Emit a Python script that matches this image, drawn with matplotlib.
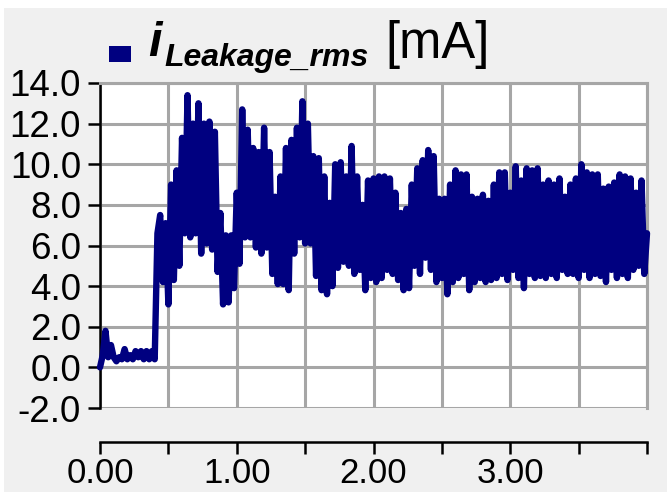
import numpy as np
import matplotlib
matplotlib.use('Agg')  # noqa
import matplotlib.pyplot as plt
from matplotlib.patches import Rectangle

plt.rcParams['font.family'] = ['Liberation Sans', 'DejaVu Sans']
plt.rcParams['axes.unicode_minus'] = False

# leakage current rms [mA], one sample every 0.02 s
DT = 0.02

startup = [0.0, 0.6, 1.8, 0.5, 1.1, 0.5, 0.3, 0.5, 0.4, 0.9, 0.4,
           0.6, 0.4, 0.8, 0.5, 0.8, 0.4, 0.8, 0.4, 0.8, 0.4]

surge = [6.6, 7.5, 4.2, 7.1, 3.1, 9.0, 4.3, 9.7, 5.0, 11.3, 6.6,
         13.4, 6.4, 12.0, 6.6, 13.0, 5.6, 12.0, 6.1, 12.1, 5.8,
         11.6, 4.7, 7.6, 3.1, 6.5, 3.2, 6.5, 3.9, 8.6, 5.1,
         12.7, 6.4, 11.7, 6.4, 10.8, 5.9, 10.6, 5.6, 11.8, 5.9,
         10.6, 4.6, 8.4, 4.1, 9.4, 4.1, 10.8, 3.8, 11.2, 5.6,
         11.8, 6.4, 13.1, 6.1]

steady = [12.0, 6.1, 10.4, 4.5, 10.3, 3.8, 9.4, 3.6, 8.1, 4.0,
          10.0, 4.9, 10.1, 5.2, 9.4, 5.0, 10.9, 4.6, 9.4, 4.8,
          8.0, 3.8, 9.2, 4.4, 9.3, 4.2, 9.4, 4.4, 9.4, 4.8,
          9.3, 4.6, 8.6, 4.3, 7.6, 3.8, 7.8, 3.9, 9.0, 5.0,
          9.8, 4.6, 10.2, 5.4, 10.7, 4.8, 10.4, 4.2, 8.3, 4.4,
          8.3, 3.6, 9.0, 4.2, 9.7, 4.4, 9.5, 4.6, 9.5, 3.8,
          8.4, 4.2, 8.3, 4.4, 8.5, 4.2, 8.2, 4.3, 9.0, 4.4,
          9.6, 4.6, 9.6, 4.3, 8.6, 4.8, 9.9, 4.4, 9.2, 3.9,
          9.8, 4.6, 9.7, 4.4, 9.8, 4.5, 9.0, 4.4, 9.2, 4.6,
          9.0, 4.4, 9.3, 4.8, 8.4, 4.6, 9.0, 4.6, 9.3, 4.4,
          10.0, 4.8, 9.6, 4.4, 9.5, 4.6, 9.5, 4.5, 8.8, 4.2,
          8.9, 4.8, 9.1, 4.4, 9.5, 4.6, 9.4, 4.4, 9.3, 4.8,
          8.6, 5.0, 9.2, 4.6, 6.6]

y_ticks = [-2.0, 0.0, 2.0, 4.0, 6.0, 8.0, 10.0, 12.0, 14.0]
x_ticks = [0.0, 0.5, 1.0, 1.5, 2.0, 2.5, 3.0, 3.5, 4.0]
x_labels = ['0.00', '', '1.00', '', '2.00', '', '3.00', '', '']

NAVY = '#000080'
GRID = '#a6a6a6'
W, H = 667, 492

current = np.array(startup + surge + steady)
t = np.arange(len(current)) * DT

fig = plt.figure(figsize=(W / 100, H / 100), dpi=100)
fig.patch.set_facecolor('white')
fig.patches.append(Rectangle((4 / W, 0), 1 - 4 / W, 1 - 8 / H,
                             transform=fig.transFigure,
                             facecolor='#f0f0f0', edgecolor='none',
                             zorder=-5))

ax = fig.add_axes([100 / W, 1 - 408 / H, 547 / W, 325 / H], zorder=2)
ax.set_facecolor('white')
ax.plot(t, current, color=NAVY, lw=4.6, solid_joinstyle='round',
        solid_capstyle='round', zorder=3, clip_on=False)

ax.set_xlim(0, 4.0)
ax.set_ylim(-2, 14)
ax.set_yticks(y_ticks)
ax.set_yticklabels(['%.1f' % v for v in y_ticks])
ax.set_xticks(x_ticks)
ax.set_xticklabels(x_labels)
ax.grid(True, color=GRID, lw=2.2)

for side in ['top', 'right']:
    ax.spines[side].set_color(GRID)
    ax.spines[side].set_linewidth(2.2)
ax.spines['left'].set_color('black')
ax.spines['left'].set_linewidth(1.8)
ax.spines['bottom'].set_color('black')
ax.spines['bottom'].set_linewidth(1.8)
ax.spines['bottom'].set_position(('outward', 24.5))

ax.tick_params(axis='both', direction='out', length=8.6, width=1.8,
               colors='black')
ax.tick_params(axis='y', pad=5, labelsize=26.5)
ax.tick_params(axis='x', pad=2.5, labelsize=25)

# legend entry drawn as a title line above the plot
fig.patches.append(Rectangle((109 / W, 1 - 62 / H), 22 / W, 16 / H,
                             transform=fig.transFigure,
                             facecolor=NAVY, edgecolor='none', zorder=3))
fig.text(148 / W, 1 - 56 / H, 'i', fontsize=35, fontweight='bold',
         fontstyle='italic', va='baseline')
fig.text(164 / W, 1 - 66 / H, 'Leakage_rms', fontsize=23,
         fontweight='bold', fontstyle='italic', va='baseline')
fig.text(385 / W, 1 - 58 / H, '[mA]', fontsize=36.5, va='baseline')

plt.savefig('out.png', dpi=100)
